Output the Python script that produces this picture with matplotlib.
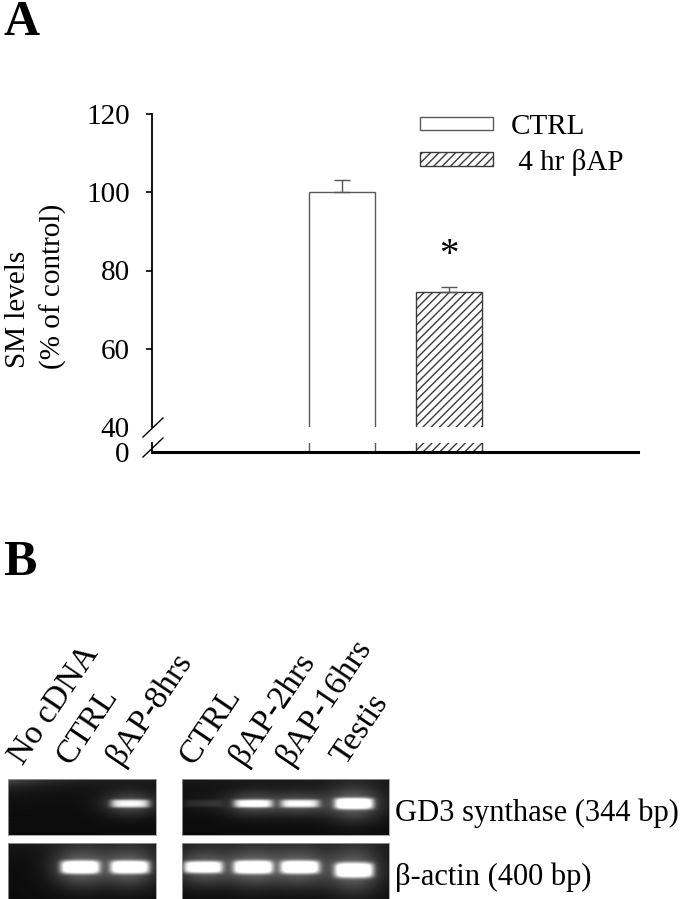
import numpy as np
import matplotlib.pyplot as plt
from matplotlib.lines import Line2D

plt.rcParams['font.family'] = ['Liberation Serif', 'DejaVu Serif']
plt.rcParams['hatch.linewidth'] = 1.0

# ---- panel A: SM levels (% of control)
groups = ['CTRL', ' 4 hr βAP']
sm_levels = [100.0, 74.6]
sm_err = [3.1, 1.3]
y_ticks_top = [40, 60, 80, 100, 120]
y_ticks_bot = [0]

# ---- panel B: RT-PCR gel, band brightness per lane (0 = no band, 1 = saturated)
lanes_left = ['No cDNA', 'CTRL', 'βAP-8hrs']
lanes_right = ['CTRL', 'βAP-2hrs', 'βAP-16hrs', 'Testis']
gd3_left = [0.0, 0.0, 0.72]
gd3_right = [0.10, 0.78, 0.72, 1.0]
actin_left = [0.0, 1.0, 0.97]
actin_right = [0.92, 1.0, 0.97, 1.0]
row_labels = ['GD3 synthase (344 bp)', 'β-actin (400 bp)']

# layout (pixels of the 689x899 output)
W, H = 689, 899
left_centers = [24, 72, 122]          # lane centres inside left gel (148 px wide)
right_centers = [21, 71, 118, 172]    # lane centres inside right gel (207 px wide)
gd3_half_h = [[4.0, 4.0, 4.0], [3.5, 4.0, 4.0, 5.5]]
actin_half_h = [[6.5, 6.5, 6.5], [6.0, 6.5, 6.5, 7.5]]
gd3_y = [[25, 25, 25], [25, 25, 25, 25]]
actin_y = [[24, 24, 24], [24, 24, 24, 27]]


def px_rect(x0, y0, x1, y1):
    return [x0 / W, 1 - y1 / H, (x1 - x0) / W, (y1 - y0) / H]


fig = plt.figure(figsize=(W / 100, H / 100), dpi=100)

# ---------------------------------------------------------------- panel A
x = np.arange(len(groups))
ax_top = fig.add_axes(px_rect(152, 114, 638, 427))
ax_bot = fig.add_axes(px_rect(152, 443, 638, 452))
edge_cols = ['#5a5a5a', '#3a3a3a']
for ax in (ax_top, ax_bot):
    bars = ax.bar(x, sm_levels, width=0.62, color='white',
                  edgecolor=edge_cols, linewidth=1.0)
    bars[1].set_hatch('////')
    ax.set_xlim(-1.786, 2.78)
    ax.set_xticks([])
    ax.spines['top'].set_visible(False)
    ax.spines['right'].set_visible(False)
    ax.tick_params(axis='y', direction='out', length=4, width=1.2,
                   pad=12, labelsize=21)
    if ax is ax_top:
        bars_top = bars

ax_top.set_ylim(40, 120)
ax_top.set_yticks(y_ticks_top)
ax_top.spines['bottom'].set_visible(False)
ax_top.spines['left'].set_linewidth(1.3)
ax_top.yaxis.get_major_ticks()[0].tick1line.set_visible(False)

ax_bot.set_ylim(0, 2.5)
ax_bot.set_yticks(y_ticks_bot)
ax_bot.spines['bottom'].set_linewidth(2.2)
ax_bot.spines['left'].set_linewidth(1.3)
ax_bot.yaxis.get_major_ticks()[0].tick1line.set_visible(False)

ax_top.errorbar(x, sm_levels, yerr=[[0, 0], sm_err], fmt='none',
                ecolor='#555555', elinewidth=1.0, capsize=5.5, capthick=1.0)
ax_top.text(x[1], sm_levels[1] + 6.8, '*', ha='center', va='baseline',
            fontsize=28)

# axis break marks
for y0 in (437, 457):
    fig.add_artist(Line2D([143 / W, 163 / W], [1 - y0 / H, 1 - (y0 - 19) / H],
                          color='black', linewidth=1.0))

ax_top.legend(bars_top, groups, loc='upper left',
              bbox_to_anchor=(420 / W, 1 - 114 / H), bbox_transform=fig.transFigure,
              frameon=False, fontsize=21, handlelength=2.5, handleheight=0.34,
              handletextpad=0.62, labelspacing=0.3, borderpad=0, borderaxespad=0)

fig.text(18 / W, 1 - 309 / H, 'SM levels', rotation=90, ha='center',
         va='center', fontsize=21)
fig.text(53 / W, 1 - 286 / H, '(% of control)', rotation=90, ha='center',
         va='center', fontsize=21)

fig.text(3 / W, 1 - 35 / H, 'A', fontsize=36, fontweight='bold', va='baseline')
fig.text(3 / W, 1 - 575 / H, 'B', fontsize=36, fontweight='bold', va='baseline')


# ---------------------------------------------------------------- panel B
def gel_image(levels, centers, half_h, band_y, width_px, haze=0.0):
    xx = np.arange(width_px * 4) / 4.0
    yy = np.arange(56 * 4) / 4.0
    X, Y = np.meshgrid(xx, yy)
    img = 0.05 + 0.06 * np.exp(-Y / 10.0)
    img += haze * np.exp(-Y / 7.0) * np.exp(-X / 45.0)
    for lev, cx, hh, cy in zip(levels, centers, half_h, band_y):
        dx = (X - cx) / 19.5
        dy = (Y - cy) / hh
        core = np.exp(-np.abs(dx) ** 6 - np.abs(dy) ** 4)
        glow = np.exp(-dx ** 2 / 2.0 - dy ** 2 / 9.0)
        img += lev * (0.95 * core + 0.35 * glow)
    return np.clip(img, 0, 1)


gels = [
    (gd3_left, left_centers, gd3_half_h[0], gd3_y[0], (8, 779, 156, 835), 0.28),
    (gd3_right, right_centers, gd3_half_h[1], gd3_y[1], (182, 779, 389, 835), 0.0),
    (actin_left, left_centers, actin_half_h[0], actin_y[0], (8, 843, 156, 899), 0.0),
    (actin_right, right_centers, actin_half_h[1], actin_y[1], (182, 843, 389, 899), 0.0),
]
gel_axes = []
for levels, centers, hh, cy, (x0, y0, x1, y1), haze in gels:
    ax = fig.add_axes(px_rect(x0, y0, x1, y1))
    img = gel_image(levels, centers, hh, cy, x1 - x0, haze)
    ax.imshow(img, cmap='gray', vmin=0, vmax=1, aspect='auto',
              extent=(0, x1 - x0, 56, 0), interpolation='bilinear')
    ax.set_xticks([])
    ax.set_yticks([])
    for s in ax.spines.values():
        s.set_color('#9a9a9a')
        s.set_linewidth(0.6)
    gel_axes.append(ax)

# lane labels above the top row
for ax, names, centers in ((gel_axes[0], lanes_left, left_centers),
                           (gel_axes[1], lanes_right, right_centers)):
    tr = ax.get_xaxis_transform()
    for name, cx in zip(names, centers):
        ax.text(cx - 9, 1.23, name, transform=tr, rotation=56,
                rotation_mode='anchor', ha='left', va='baseline', fontsize=24)

fig.text(395 / W, 1 - 813 / H, row_labels[0], va='center', fontsize=22)
fig.text(395 / W, 1 - 877 / H, row_labels[1], va='center', fontsize=22)

fig.savefig('out.png', dpi=100)
